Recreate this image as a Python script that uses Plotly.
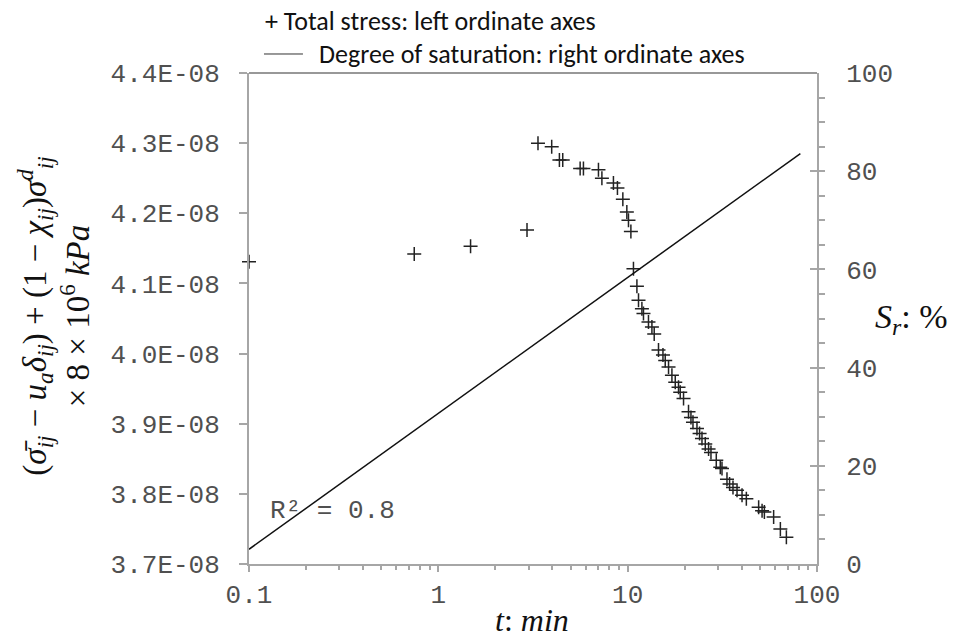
import plotly.graph_objects as go

# ---- data ----
t_stress = [0.1, 0.746, 1.48, 2.94,
            3.36, 3.97, 4.36, 4.54, 5.61, 5.84, 7.01, 7.31, 8.41, 8.83, 9.43, 9.90, 10.10, 10.40,
            10.73, 11.19, 11.41, 11.89, 12.12, 12.88, 13.43, 13.81, 14.55, 15.36, 15.79, 16.44,
            17.13, 17.84, 18.56, 18.95, 19.73, 20.96, 21.59, 22.13, 23.23, 23.98, 24.69, 25.70,
            26.75, 27.54, 29.38, 30.84, 31.49, 33.46, 34.54, 36.00, 37.81, 40.18, 42.35, 49.18,
            51.27, 52.73, 59.02, 64.05, 68.91]
stress_e8 = [4.131, 4.142, 4.153, 4.176,
             4.300, 4.295, 4.276, 4.276, 4.264, 4.264, 4.262, 4.250, 4.243, 4.236, 4.220, 4.202, 4.190, 4.174,
             4.121, 4.096, 4.076, 4.064, 4.057, 4.045, 4.038, 4.028, 4.005, 3.998, 3.990, 3.981,
             3.969, 3.959, 3.952, 3.945, 3.936, 3.917, 3.909, 3.902, 3.893, 3.886, 3.879, 3.871,
             3.864, 3.859, 3.848, 3.838, 3.836, 3.821, 3.814, 3.809, 3.805, 3.798, 3.793, 3.781,
             3.776, 3.774, 3.767, 3.750, 3.738]
stress = [v * 1e-8 for v in stress_e8]

t_fit = [0.1, 81.7]
sr_fit = [3.0, 83.6]

x_ticks = [0.1, 1, 10, 100]
x_ticktext = ["0.1", "1", "10", "100"]
x_minor = [0.2, 0.3, 0.4, 0.5, 0.6, 0.7, 0.8, 0.9,
           2, 3, 4, 5, 6, 7, 8, 9,
           20, 30, 40, 50, 60, 70, 80, 90]
y_ticks_e8 = [3.7, 3.8, 3.9, 4.0, 4.1, 4.2, 4.3, 4.4]
y_ticktext = ["3.7E-08", "3.8E-08", "3.9E-08", "4.0E-08", "4.1E-08", "4.2E-08", "4.3E-08", "4.4E-08"]
y2_ticks = [0, 20, 40, 60, 80, 100]

MONO = "Courier New, Liberation Mono, monospace"
SERIF = "Liberation Serif, DejaVu Serif, serif"
SANS = "Carlito, Lato, sans-serif"
AX = "#a6a6a6"
TXT = "#505050"

fig = go.Figure()
fig.add_trace(go.Scatter(
    x=t_stress, y=stress, mode="markers", yaxis="y", cliponaxis=False,
    marker=dict(symbol="cross-thin", size=10, line=dict(color="#222222", width=1.5)),
    showlegend=False, name="Total stress"))
fig.add_trace(go.Scatter(
    x=t_fit, y=sr_fit, mode="lines", yaxis="y2",
    line=dict(color="#111111", width=1.5),
    showlegend=False, name="Degree of saturation"))

fig.update_layout(
    width=958, height=641,
    margin=dict(l=249, r=141, t=73, b=77),
    paper_bgcolor="white", plot_bgcolor="white",
    xaxis=dict(type="log", range=[-1, 2], tickmode="array", tickvals=x_ticks, ticktext=x_ticktext,
               showline=True, linecolor=AX, linewidth=2, showgrid=False, zeroline=False,
               ticks="outside", ticklen=6, tickcolor=AX, tickwidth=1.5,
               tickfont=dict(family=MONO, size=26, color=TXT),
               minor=dict(tickmode="array", tickvals=x_minor, ticks="outside", ticklen=4,
                          tickcolor=AX, tickwidth=1.5, showgrid=False)),
    yaxis=dict(range=[3.7e-8, 4.4e-8], tickmode="array",
               tickvals=[v * 1e-8 for v in y_ticks_e8], ticktext=y_ticktext,
               showline=True, linecolor=AX, linewidth=2, showgrid=False, zeroline=False,
               ticks="outside", ticklen=8, tickcolor=AX, tickwidth=1.5,
               ticklabelstandoff=14,
               tickfont=dict(family=MONO, size=26, color=TXT)),
    yaxis2=dict(range=[0, 100], overlaying="y", side="right", tickmode="array", tickvals=y2_ticks,
                showline=True, linecolor=AX, linewidth=2, showgrid=False, zeroline=False,
                ticks="inside", ticklen=7, tickcolor=AX, tickwidth=1.5,
                ticklabelstandoff=22,
                tickfont=dict(family=MONO, size=26, color=TXT),
                minor=dict(dtick=5, ticks="outside", ticklen=6, tickcolor=AX, tickwidth=1.5,
                           showgrid=False)),
)

# top border of the plot area
fig.add_shape(type="line", xref="paper", yref="paper", x0=0, x1=1, y0=1, y1=1,
              line=dict(color="#333333", width=1.2))

# legend (drawn as text + line sample)
fig.add_annotation(xref="paper", yref="paper", x=0.0246, y=1.106, xanchor="left", yanchor="middle",
                   text="+ Total stress: left ordinate axes", showarrow=False,
                   font=dict(family=SANS, size=26, color="#111111"))
fig.add_shape(type="line", xref="paper", yref="paper", x0=0.0264, x1=0.0950, y0=1.0387, y1=1.0387,
              line=dict(color="#333333", width=1))
fig.add_annotation(xref="paper", yref="paper", x=0.1205, y=1.0387, xanchor="left", yanchor="middle",
                   text="Degree of saturation: right ordinate axes", showarrow=False,
                   font=dict(family=SANS, size=26, color="#111111"))

# R^2 label
fig.add_annotation(xref="paper", yref="paper", x=0.0335, y=0.108, xanchor="left", yanchor="middle",
                   text="R² = 0.8", showarrow=False, font=dict(family=MONO, size=26, color=TXT))

# axis titles
fig.add_annotation(xref="paper", yref="paper", x=-0.344, y=0.505, xanchor="center", yanchor="middle",
                   textangle=-90, showarrow=False,
                   text=("(<i>σ̄</i><sub><i>ij</i></sub> − <i>u</i><sub><i>a</i></sub><i>δ</i><sub><i>ij</i></sub>)"
                         " + (1 − <i>χ</i><sub><i>ij</i></sub>)<i>σ</i><sup><i>d</i></sup><sub><i>ij</i></sub>"
                         "<br>× 8 × 10<sup>6</sup> <i>kPa</i>"),
                   font=dict(family=SERIF, size=33, color="#111111"))
fig.add_annotation(xref="paper", yref="paper", x=1.1655, y=0.50, xanchor="center", yanchor="middle",
                   text="<i>S</i><sub><i>r</i></sub>: %", showarrow=False,
                   font=dict(family=SERIF, size=34, color="#111111"))
fig.add_annotation(xref="paper", yref="paper", x=0.498, y=-0.114, xanchor="center", yanchor="middle",
                   text="<i>t</i>: <i>min</i>", showarrow=False,
                   font=dict(family=SERIF, size=32, color="#111111"))

fig.write_html("out.html")
